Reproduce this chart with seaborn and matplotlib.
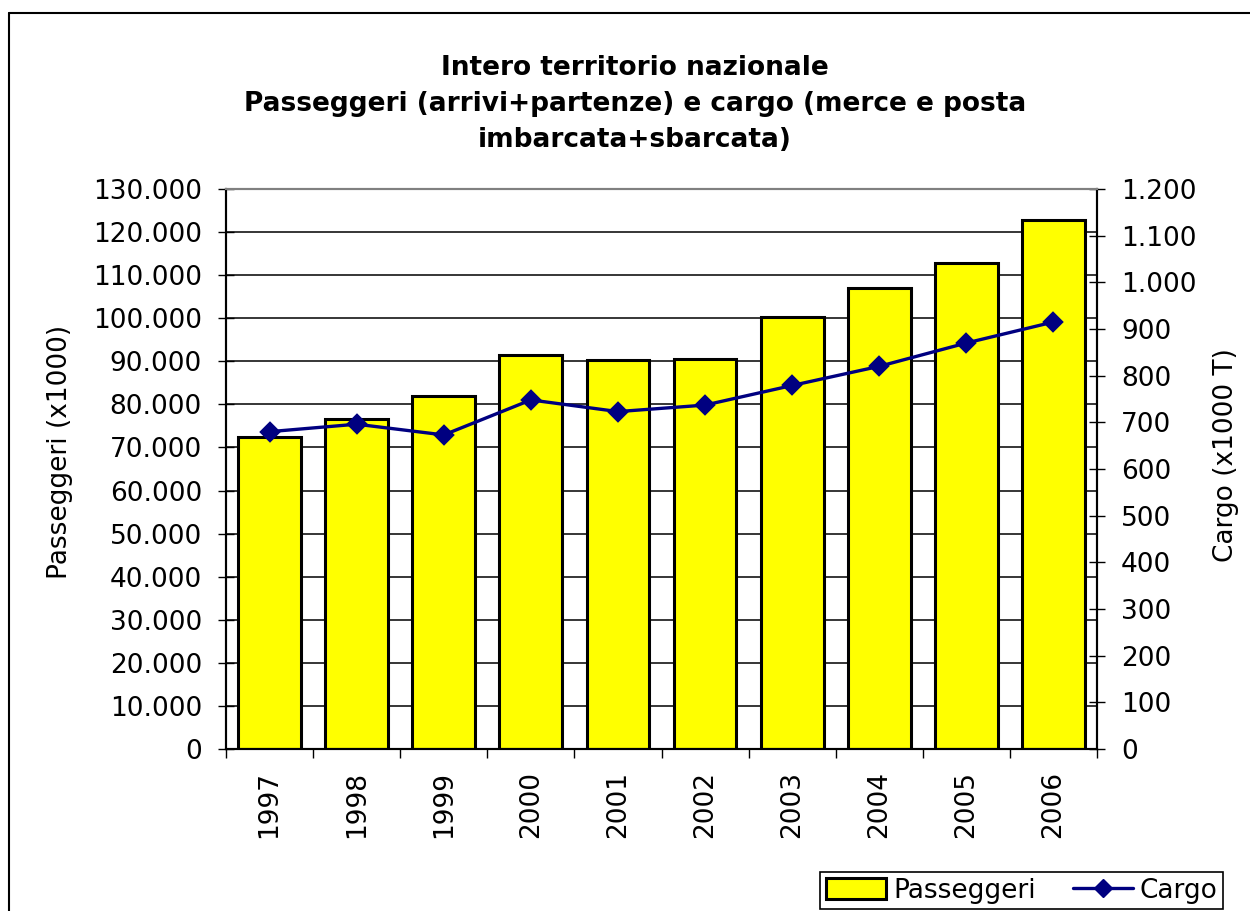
import numpy as np
import pandas as pd
import matplotlib
matplotlib.use('Agg')
import matplotlib.pyplot as plt
from matplotlib.ticker import FuncFormatter, MultipleLocator
from matplotlib.patches import Patch
from matplotlib.lines import Line2D
import seaborn as sns

# data
anni = ['1997', '1998', '1999', '2000', '2001', '2002', '2003', '2004', '2005', '2006']
passeggeri = [72500, 76600, 81900, 91500, 90200, 90500, 100200, 107000, 112900, 122900]
cargo = [680, 696, 673, 748, 723, 737, 779, 820, 870, 915]

titolo = ('Intero territorio nazionale\n'
          'Passeggeri (arrivi+partenze) e cargo (merce e posta\n'
          'imbarcata+sbarcata)')

GIALLO = '#FFFF00'
BLU = '#000080'
FS = 19


def fmt_it(v, pos=None):
    """thousands with dot separator"""
    return f'{int(round(v)):,}'.replace(',', '.')


def main():
    sns.set_style('white')
    plt.rcParams['font.family'] = ['DejaVu Sans']
    plt.rcParams['text.color'] = 'black'
    plt.rcParams['axes.labelcolor'] = 'black'
    plt.rcParams['xtick.color'] = 'black'
    plt.rcParams['ytick.color'] = 'black'

    df = pd.DataFrame({'anno': anni, 'passeggeri': passeggeri, 'cargo': cargo})

    fig = plt.figure(figsize=(12.5, 9.11), dpi=100)
    ax = fig.add_axes([226 / 1250, 162 / 911, 871 / 1250, 560 / 911])
    ax2 = ax.twinx()

    # bars - passengers
    sns.barplot(data=df, x='anno', y='passeggeri', ax=ax, color=GIALLO,
                saturation=1, edgecolor='black', linewidth=2.2, width=0.72,
                errorbar=None, zorder=2)

    # line - cargo
    sns.pointplot(data=df, x='anno', y='cargo', ax=ax2, color=BLU,
                  markers='D', markersize=9.5, linewidth=2.4, errorbar=None)

    # left axis
    ax.set_ylim(0, 130000)
    ax.yaxis.set_major_locator(MultipleLocator(10000))
    ax.yaxis.set_major_formatter(FuncFormatter(fmt_it))
    ax.grid(axis='y', color='black', linewidth=1.1)
    ax.grid(axis='x', visible=False)
    ax.set_axisbelow(True)
    ax.tick_params(axis='y', left=True, direction='inout', length=12,
                   width=1.0, pad=11.3, labelsize=FS, colors='black')

    # right axis
    ax2.set_ylim(0, 1200)
    ax2.yaxis.set_major_locator(MultipleLocator(100))
    ax2.yaxis.set_major_formatter(FuncFormatter(fmt_it))
    ax2.tick_params(axis='y', right=True, direction='inout', length=12,
                    width=1.0, pad=11.3, labelsize=FS, colors='black')
    ax2.grid(False)

    # x axis: labels at centers, ticks at category boundaries
    ax.set_xlim(-0.5, len(anni) - 0.5)
    ax.set_xticks(np.arange(len(anni)))
    ax.set_xticklabels(anni, rotation=90)
    ax.set_xticks(np.arange(len(anni) + 1) - 0.5, minor=True)
    ax.tick_params(axis='x', which='major', length=0, pad=15.5, labelsize=FS,
                   colors='black')
    ax.tick_params(axis='x', which='minor', bottom=True, direction='out',
                   length=6.5, width=1.0, color='black')

    for a in (ax, ax2):
        a.set_xlabel('')
        a.set_ylabel('')
        for s in a.spines.values():
            s.set_visible(True)
            s.set_linewidth(1.5)
            s.set_color('black')
        a.spines['top'].set_color('#808080')

    # titles and axis labels
    fig.text(635 / 1250, 1 - 55 / 911, titolo, ha='center', va='top',
             fontsize=FS, fontweight='bold', linespacing=1.5, color='black')
    fig.text(60 / 1250, 1 - 452 / 911, 'Passeggeri (x1000)', rotation=90,
             ha='center', va='center', fontsize=FS, color='black')
    fig.text(1226 / 1250, 1 - 455 / 911, 'Cargo (x1000 T)', rotation=90,
             ha='center', va='center', fontsize=FS, color='black')

    # legend
    handles = [
        Patch(facecolor=GIALLO, edgecolor='black', linewidth=2.2),
        Line2D([], [], color=BLU, marker='D', markersize=9.5, linewidth=2.4),
    ]
    leg = fig.legend(handles, ['Passeggeri', 'Cargo'], loc='lower right',
                     bbox_to_anchor=(1223 / 1250, 2 / 911), ncol=2, fontsize=FS,
                     frameon=True, fancybox=False, edgecolor='black', framealpha=1,
                     borderpad=0.2, handlelength=2.3, handleheight=0.8,
                     handletextpad=0.25, columnspacing=1.4, borderaxespad=0)
    leg.get_frame().set_linewidth(1.2)

    # outer chart frame (only top and left edges are visible)
    x0 = 9 / 1250
    y0 = 1 - 13 / 911
    fig.add_artist(Line2D([x0, 1], [y0, y0], transform=fig.transFigure,
                          color='black', linewidth=1.5))
    fig.add_artist(Line2D([x0, x0], [0, y0], transform=fig.transFigure,
                          color='black', linewidth=1.5))

    fig.savefig('out.png', dpi=100, facecolor='white')
    plt.close(fig)


if __name__ == '__main__':
    main()
